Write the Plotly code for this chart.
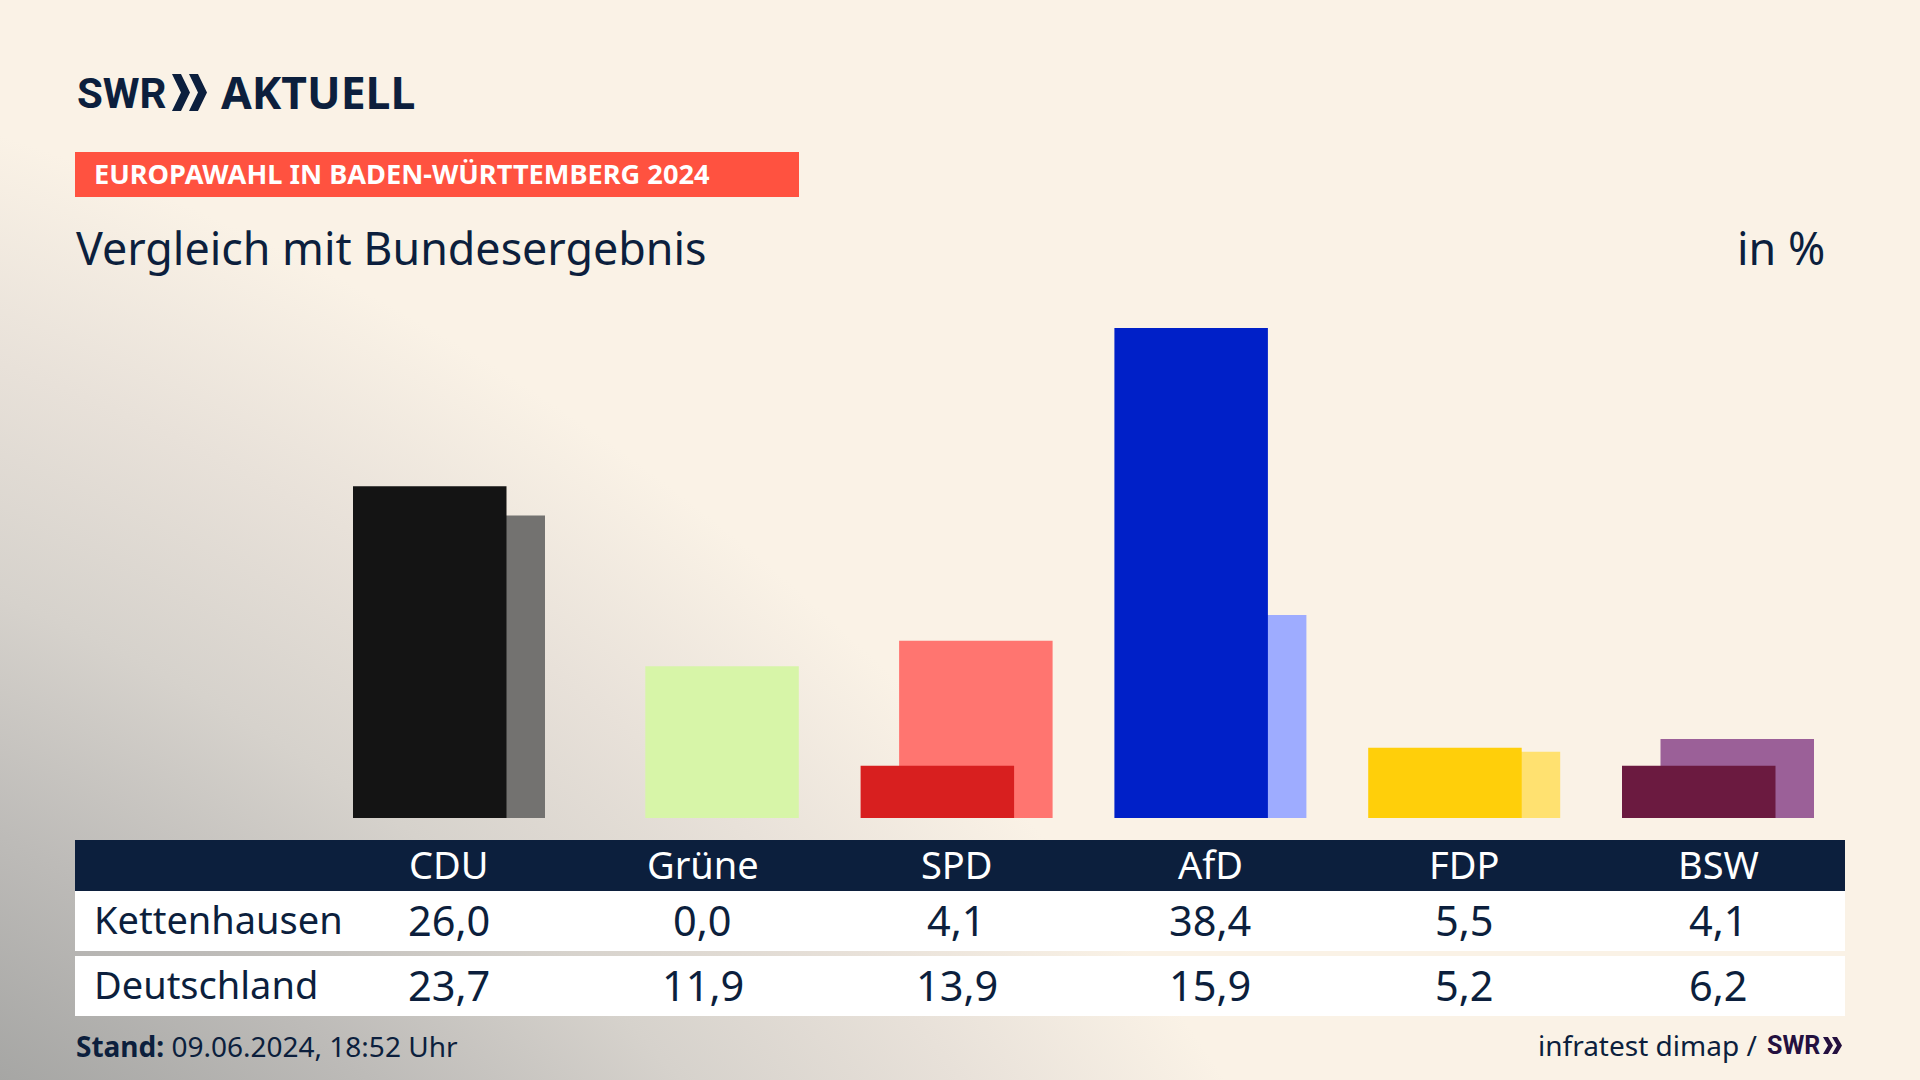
import base64
import plotly.graph_objects as go

W = 1920
H = 1080

# values
parties = ["CDU", "Grüne", "SPD", "AfD", "FDP", "BSW"]
kettenhausen = [26.0, 0.0, 4.1, 38.4, 5.5, 4.1]
deutschland = [23.7, 11.9, 13.9, 15.9, 5.2, 6.2]
dark_colors = ["#141414", "#8fd14f", "#d81f1f", "#0020c8", "#ffcf0a", "#6b1a40"]
light_colors = ["#737270", "#d7f5a8", "#ff7570", "#9eacff", "#ffe170", "#9b6098"]

NAVY = "#0c1f3d"
PURPLE = "#24103f"
FONT = "Noto Sans"
LOGO_FONT = "Roboto"

# pixel layout of the bars
PITCH = 253.8       # px between two parties
BAR_W = 153.5       # px
SHIFT = 38.5        # px, light bar sits this far right of the dark one
FIRST_CENTER = 449  # px, middle of CDU group
BASELINE = 818      # px from top
PX_PER_POINT = 12.76


def fx(px):
    return px / W


def fy(px):
    return 1 - px / H


def label(text, x, y, size, color=NAVY, anchor="center", bold=False, family=FONT):
    return dict(text=f"<b>{text}</b>" if bold else text, x=fx(x), y=fy(y), xref="paper", yref="paper",
                xanchor=anchor, yanchor="middle", showarrow=False,
                font=dict(family=family, size=size, color=color))


def box(x0, y0, x1, y1, color):
    return dict(type="rect", xref="paper", yref="paper", x0=fx(x0), x1=fx(x1), y0=fy(y0), y1=fy(y1),
                fillcolor=color, line_width=0, layer="below")


def chevron(x, y0, y1, w, t, color):
    mid = (y0 + y1) / 2
    pts = [(x, y0), (x + t, y0), (x + w, mid), (x + t, y1), (x, y1), (x + w - t, mid)]
    path = "M" + " L".join(f"{fx(a):.5f},{fy(b):.5f}" for a, b in pts) + " Z"
    return dict(type="path", xref="paper", yref="paper", path=path, fillcolor=color, line_width=0)


# grey glow from the lower left, big circle so the edge runs almost straight
svg = f"""<svg xmlns="http://www.w3.org/2000/svg" width="{W}" height="{H}">
<defs><radialGradient id="g" gradientUnits="userSpaceOnUse" cx="-743" cy="2365" r="2351">
<stop offset="0.631" stop-color="#a6a6a4"/>
<stop offset="0.723" stop-color="#bdbbb8"/>
<stop offset="0.816" stop-color="#d6d2cc"/>
<stop offset="0.908" stop-color="#e8e1d9"/>
<stop offset="1" stop-color="#faf2e6"/>
</radialGradient></defs>
<rect width="{W}" height="{H}" fill="url(#g)"/>
</svg>"""
bg_uri = "data:image/svg+xml;base64," + base64.b64encode(svg.encode()).decode()

fig = go.Figure()

# Bundesergebnis goes behind, Kettenhausen on top
fig.add_trace(go.Bar(x=parties, y=deutschland, name="Deutschland", marker_color=light_colors,
                     marker_line_width=0, width=BAR_W / PITCH, offset=(SHIFT - (BAR_W + SHIFT) / 2) / PITCH))
fig.add_trace(go.Bar(x=parties, y=kettenhausen, name="Kettenhausen", marker_color=dark_colors,
                     marker_line_width=0, width=BAR_W / PITCH, offset=-(BAR_W + SHIFT) / 2 / PITCH))

shapes = [
    box(75, 152, 799, 197, "#ff5240"),
    box(75, 840, 1845, 891, NAVY),
    box(75, 891, 1845, 951, "white"),
    box(75, 956, 1845, 1016, "white"),
    chevron(172, 74, 111, 18, 9, NAVY),
    chevron(189, 74, 111, 18, 9, NAVY),
    chevron(1823, 1037, 1054, 10, 5, PURPLE),
    chevron(1832, 1037, 1054, 10, 5, PURPLE),
]

annotations = [
    label("SWR", 75, 94, 42, anchor="left", bold=True, family=LOGO_FONT),
    label("AKTUELL", 219, 92, 44.5, anchor="left", bold=True),
    label("EUROPAWAHL IN BADEN-WÜRTTEMBERG 2024", 92, 174, 27.2, color="white", anchor="left", bold=True),
    label("Vergleich mit Bundesergebnis", 74, 247, 44.8, anchor="left"),
    label("in %", 1827, 247, 44.8, anchor="right"),
    label("Kettenhausen", 92, 919, 38, anchor="left"),
    label("Deutschland", 92, 984, 38, anchor="left"),
    label("<b>Stand:</b> 09.06.2024, 18:52 Uhr", 74, 1046, 28, anchor="left"),
    label("infratest dimap /", 1759, 1045, 28, anchor="right"),
    label("SWR", 1822, 1045, 25, color=PURPLE, anchor="right", bold=True, family=LOGO_FONT),
]

for i, party in enumerate(parties):
    cx = FIRST_CENTER + i * PITCH
    annotations.append(label(party, cx, 864, 38, color="white"))
    annotations.append(label(f"{kettenhausen[i]:.1f}".replace(".", ","), cx, 920, 41.5))
    annotations.append(label(f"{deutschland[i]:.1f}".replace(".", ","), cx, 985, 41.5))

fig.update_layout(
    width=W, height=H, margin=dict(l=0, r=0, t=0, b=0),
    barmode="overlay", showlegend=False,
    paper_bgcolor="#faf2e6", plot_bgcolor="rgba(0,0,0,0)",
    xaxis=dict(visible=False, range=[-FIRST_CENTER / PITCH, (W - FIRST_CENTER) / PITCH]),
    yaxis=dict(visible=False, range=[-(H - BASELINE) / PX_PER_POINT, BASELINE / PX_PER_POINT]),
    shapes=shapes, annotations=annotations,
    images=[dict(source=bg_uri, xref="paper", yref="paper", x=0, y=1, sizex=1, sizey=1,
                 xanchor="left", yanchor="top", sizing="stretch", layer="below")],
)

fig.write_html("out.html", config={"displayModeBar": False},
               post_script="document.body.style.margin='0';document.body.style.overflow='hidden';")
